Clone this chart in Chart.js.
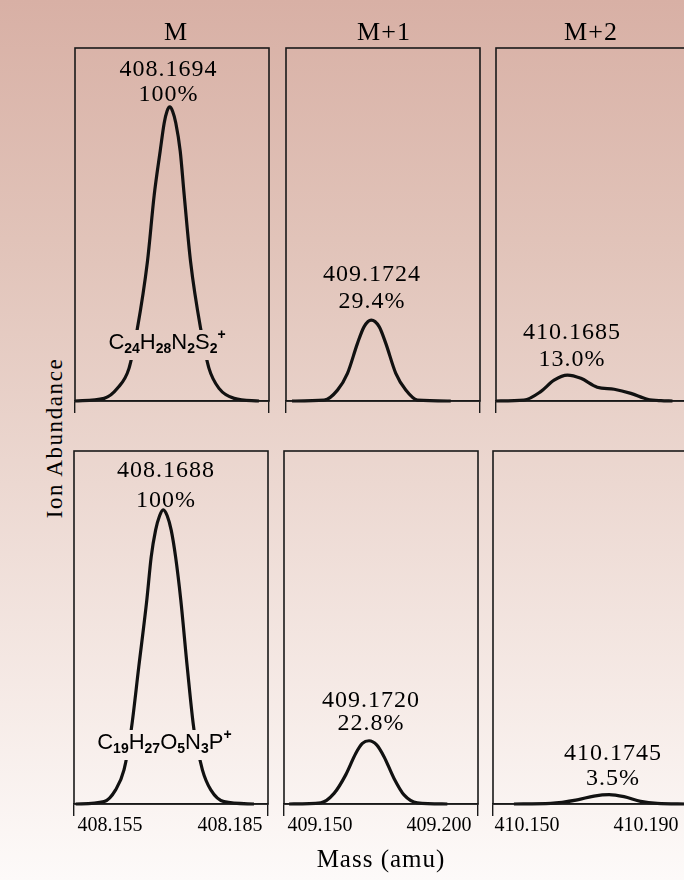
<!DOCTYPE html>
<html>
<head>
<meta charset="utf-8">
<script src="https://cdn.jsdelivr.net/npm/chart.js@4.4.0/dist/chart.umd.min.js"></script>
<style>
  html, body { margin: 0; padding: 0; }
  body { width: 684px; height: 880px; overflow: hidden; }
  #page {
    position: relative; width: 684px; height: 880px; overflow: hidden;
    background: linear-gradient(to bottom, #d8b0a5 0%, #e2c5bb 30%, #ecd8d1 55%, #f6ebe7 80%, #fdfaf9 100%);
    font-family: "Liberation Serif", serif; color: #000;
  }
  #page canvas { position: absolute; }
  .txt { position: absolute; white-space: nowrap; transform: translate(-50%, -50%); }
  .head { font-size: 26px; letter-spacing: 1px; }
  #ylab { font-size: 23px; letter-spacing: 1.6px; transform: translate(-50%, -50%) rotate(-90deg); }
  #xlab { font-size: 25px; letter-spacing: 1px; }
</style>
</head>
<body>
<div id="page"></div>
<script>
// 同位体ピーク（M, M+1, M+2）の質量と相対強度
const isotopeTitles = ['M', 'M+1', 'M+2'];

// 上段: C24H28N2S2+
const mTopMass = [408.1460, 408.1533, 408.1566, 408.1595, 408.1616, 408.1641, 408.1658, 408.1673, 408.1683, 408.1690,
                  408.1697, 408.1704, 408.1712, 408.1723, 408.1733, 408.1749, 408.1774, 408.1795, 408.1820, 408.1858,
                  408.1920];
const mTopAbund = [0, 0.9, 4.3, 11.1, 24.7, 47.3, 70, 85, 94.5, 98.5, 100, 98.5, 94.5, 85, 70, 47.3, 24.7, 11.1, 4.3, 0.9, 0];
const m1TopMass = [409.1374, 409.1509, 409.1565, 409.1607, 409.1649, 409.1677, 409.1707, 409.1740, 409.1768, 409.1810,
                   409.1852, 409.1901, 409.2041];
const m1TopAbund = [0, 0.3, 3.7, 9.4, 19.6, 25.3, 27.5, 25.3, 19.6, 9.4, 3.7, 0.3, 0];
const m2TopMass = [410.1386, 410.1480, 410.1536, 410.1581, 410.1626, 410.1671, 410.1726, 410.1783, 410.1839, 410.1895,
                   410.1940, 410.1979];
const m2TopAbund = [0, 0.3, 3.2, 7.1, 8.8, 7.7, 4.7, 4.0, 2.6, 0.6, 0.1, 0];

// 下段: C19H27O5N3P+
const mBotMass = [408.1464, 408.1535, 408.1564, 408.1585, 408.1603, 408.1622, 408.1642, 408.1653, 408.1664, 408.1674,
                  408.1683, 408.1693, 408.1703, 408.1714, 408.1727, 408.1743, 408.1760, 408.1781, 408.1802, 408.1835,
                  408.1910];
const mBotAbund = [0, 0.8, 4.8, 11.6, 25.2, 46.7, 69.3, 84, 93.1, 98, 100, 98, 93.1, 84, 69.3, 46.7, 25.2, 11.6, 4.8, 0.8, 0];
const m1BotMass = [409.1370, 409.1503, 409.1559, 409.1608, 409.1650, 409.1678, 409.1706, 409.1738, 409.1769, 409.1811,
                   409.1853, 409.1909, 409.2035];
const m1BotAbund = [0, 0.4, 3.6, 9.9, 17.2, 20.6, 21.5, 20.1, 16.1, 8.7, 3.1, 0.4, 0];
const m2BotMass = [410.1456, 410.1580, 410.1669, 410.1725, 410.1776, 410.1826, 410.1882, 410.1938, 410.2035];
const m2BotAbund = [0, 0.2, 1.4, 2.7, 3.2, 2.5, 0.9, 0.2, 0];

// 軸の範囲と目盛り
const xRanges = [[408.1460, 408.1945], [409.13487, 409.21638], [410.13857, 410.20378]];
const xTickLabels = [[408.155, 408.185], [409.150, 409.200], [410.150, 410.190]];
const yMax = 120;

// ピークラベル
const peakMass = ['408.1694', '409.1724', '410.1685', '408.1688', '409.1720', '410.1745'];
const peakPct = ['100%', '29.4%', '13.0%', '100%', '22.8%', '3.5%'];
// 組成式 (0: 通常, 1: 下付き, 2: 上付き)
const formulaTop = [['C', 0], ['24', 1], ['H', 0], ['28', 1], ['N', 0], ['2', 1], ['S', 0], ['2', 1], ['+', 2]];
const formulaBot = [['C', 0], ['19', 1], ['H', 0], ['27', 1], ['O', 0], ['5', 1], ['N', 0], ['3', 1], ['P', 0], ['+', 2]];

const PAD = 6, PLOT_W = 194, PLOT_H = 353, AXH = 46;

// パネル配置 [left, top] とラベル位置（データ座標）
const panels = [
  { col: 0, left: 75, top: 48, mass: mTopMass, abund: mTopAbund, labelX: 408.1694, labelY: [112.5, 104], formula: formulaTop, fx: 408.1690, fy: 19.7, ticks: false },
  { col: 1, left: 286, top: 48, mass: m1TopMass, abund: m1TopAbund, labelX: 409.1710, labelY: [42.8, 33.6], ticks: false },
  { col: 2, left: 496, top: 48, mass: m2TopMass, abund: m2TopAbund, labelX: 410.1641, labelY: [23.1, 13.9], ticks: false },
  { col: 0, left: 74, top: 451, mass: mBotMass, abund: mBotAbund, labelX: 408.1690, labelY: [113.2, 103.0], formula: formulaBot, fx: 408.1686, fy: 20.7, ticks: true },
  { col: 1, left: 284, top: 451, mass: m1BotMass, abund: m1BotAbund, labelX: 409.1714, labelY: [35.0, 27.2], ticks: true },
  { col: 2, left: 493, top: 451, mass: m2BotMass, abund: m2BotAbund, labelX: 410.1789, labelY: [17.0, 8.5], ticks: true }
];

// 枠・ピークラベル・組成式を描くプラグイン
const panelDecor = {
  id: 'panelDecor',
  afterDatasetsDraw(chart, args, opts) {
    const { ctx, chartArea: a, scales: { x, y } } = chart;
    ctx.save();

    // 組成式（背景を抜いて曲線を切る）
    if (opts.formula) {
      const fonts = ['22px "Liberation Sans"', 'bold 14px "Liberation Sans"', 'bold 14px "Liberation Sans"'];
      const shift = [0, 6, -8];
      let w = 0;
      opts.formula.forEach(([t, k]) => { ctx.font = fonts[k]; w += ctx.measureText(t).width; });
      const cx = x.getPixelForValue(opts.fx), cy = y.getPixelForValue(opts.fy);
      let px = cx - w / 2;
      ctx.clearRect(px - 3, cy - 13, w + 6, 30);
      ctx.fillStyle = '#000';
      ctx.textBaseline = 'middle';
      ctx.textAlign = 'left';
      opts.formula.forEach(([t, k]) => {
        ctx.font = fonts[k];
        ctx.fillText(t, px, cy + shift[k]);
        px += ctx.measureText(t).width;
      });
    }

    // 枠
    ctx.strokeStyle = '#1a1a1a';
    ctx.lineWidth = 1.6;
    ctx.strokeRect(a.left, a.top, a.right - a.left, a.bottom - a.top);

    // ピークラベル
    ctx.fillStyle = '#000';
    ctx.textAlign = 'center';
    ctx.textBaseline = 'middle';
    ctx.font = '24px "Liberation Serif"';
    if ('letterSpacing' in ctx) ctx.letterSpacing = '1px';
    const lx = x.getPixelForValue(opts.labelX);
    ctx.fillText(opts.mass, lx, y.getPixelForValue(opts.labelY[0]));
    ctx.fillText(opts.pct, lx, y.getPixelForValue(opts.labelY[1]));
    ctx.restore();
  }
};

const page = document.getElementById('page');

panels.forEach((p, i) => {
  const canvas = document.createElement('canvas');
  canvas.width = PLOT_W + PAD * 2;
  canvas.height = PAD + PLOT_H + AXH;
  canvas.style.left = (p.left - PAD) + 'px';
  canvas.style.top = (p.top - PAD) + 'px';
  page.appendChild(canvas);

  const [xMin, xMax] = xRanges[p.col];
  const tickVals = xTickLabels[p.col];

  new Chart(canvas, {
    type: 'line',
    data: {
      datasets: [{
        data: p.mass.map((m, k) => ({ x: m, y: p.abund[k] })),
        borderColor: '#111',
        borderWidth: 3.2,
        pointRadius: 0,
        fill: false,
        cubicInterpolationMode: 'monotone',
        clip: 6
      }]
    },
    options: {
      responsive: false,
      animation: false,
      events: [],
      layout: { padding: { left: PAD, right: PAD, top: PAD, bottom: 0 } },
      scales: {
        x: {
          type: 'linear',
          min: xMin,
          max: xMax,
          afterBuildTicks: (axis) => {
            axis.ticks = [xMin, ...tickVals, xMax].map(v => ({ value: v }));
          },
          afterFit: (axis) => { axis.height = AXH; },
          grid: {
            display: true,
            drawOnChartArea: false,
            drawTicks: true,
            tickLength: 12,
            lineWidth: 1.4,
            color: (c) => (c.tick && (c.tick.value === xMin || c.tick.value === xMax)) ? '#1a1a1a' : 'rgba(0,0,0,0)'
          },
          border: { display: true, color: '#1a1a1a', width: 1.6 },
          ticks: {
            display: p.ticks,
            autoSkip: false,
            maxRotation: 0,
            padding: 0,
            color: '#000',
            font: { family: '"Liberation Serif"', size: 20, lineHeight: 1 },
            callback: (v) => (v === xMin || v === xMax) ? '' : Number(v).toFixed(3)
          }
        },
        y: {
          display: false,
          min: 0,
          max: yMax
        }
      },
      plugins: {
        legend: { display: false },
        tooltip: { enabled: false },
        panelDecor: {
          mass: peakMass[i],
          pct: peakPct[i],
          labelX: p.labelX,
          labelY: p.labelY,
          formula: p.formula,
          fx: p.fx,
          fy: p.fy
        }
      }
    },
    plugins: [panelDecor]
  });
});

// 見出しと軸タイトル
const addText = (text, cls, x, y, id) => {
  const d = document.createElement('div');
  d.className = 'txt ' + cls;
  if (id) d.id = id;
  d.textContent = text;
  d.style.left = x + 'px';
  d.style.top = y + 'px';
  page.appendChild(d);
};
[176, 384, 591].forEach((cx, i) => addText(isotopeTitles[i], 'head', cx, 32));
addText('Ion Abundance', '', 55, 438, 'ylab');
addText('Mass (amu)', '', 381, 859, 'xlab');
</script>
</body>
</html>
